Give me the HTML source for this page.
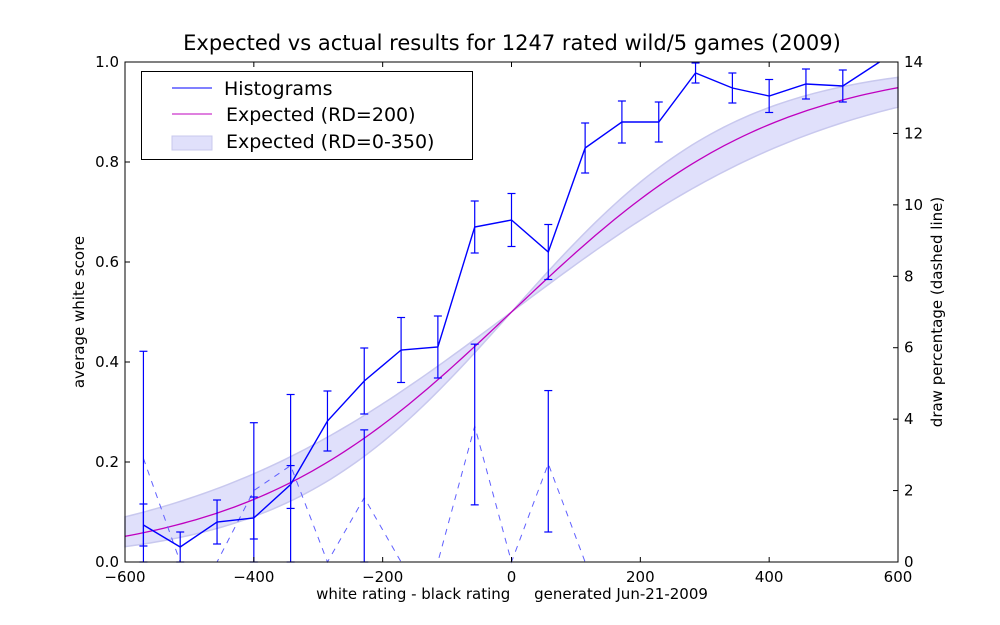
<!DOCTYPE html>
<html><head><meta charset="utf-8"><style>
html,body{margin:0;padding:0;background:#fff;}
svg{display:block;font-family:"DejaVu Sans","Liberation Sans",sans-serif;}
</style></head><body>
<svg id="chart" width="1000" height="625" viewBox="0 0 1000 625">
<rect x="0" y="0" width="1000" height="625" fill="#fff"/>
<text x="512" y="50" text-anchor="middle" font-size="21">Expected vs actual results for 1247 rated wild/5 games (2009)</text>
<g id="plot"></g>
<text x="0" y="0" transform="translate(84,312) rotate(-90)" text-anchor="middle" font-size="15">average white score</text>
<text x="0" y="0" transform="translate(942,312) rotate(-90)" text-anchor="middle" font-size="15">draw percentage (dashed line)</text>
<text x="512" y="599" text-anchor="middle" font-size="15" xml:space="preserve">white rating - black rating     generated Jun-21-2009</text>
<g>
<rect x="141.5" y="71.5" width="331" height="88" fill="#fff" stroke="#000"/>
<line x1="172" y1="88" x2="212" y2="88" stroke="#0000ff" stroke-width="1"/>
<text x="224" y="95" font-size="19">Histograms</text>
<line x1="172" y1="114" x2="212" y2="114" stroke="#bf00bf" stroke-width="1"/>
<text x="226" y="121" font-size="19">Expected (RD=200)</text>
<rect x="172" y="136" width="40" height="14" fill="#e0e0fb" stroke="#c8c8ee"/>
<text x="226" y="148" font-size="19">Expected (RD=0-350)</text>
</g>
</svg>
<script>
const bins = [-571.4,-514.3,-457.1,-400,-342.9,-285.7,-228.6,-171.4,-114.3,-57.1,0,57.1,114.3,171.4,228.6,285.7,342.9,400,457.1,514.3,571.4];
const scores = [0.074,0.03,0.08,0.088,0.155,0.282,0.362,0.424,0.43,0.67,0.684,0.62,0.828,0.88,0.88,0.978,0.948,0.932,0.956,0.952,1.0];
const scoreErr = [0.042,0.03,0.044,0.042,0.18,0.06,0.066,0.065,0.062,0.052,0.053,0.055,0.05,0.042,0.04,0.02,0.03,0.033,0.03,0.032,0.0];
const draws = [2.9,0,0,2.0,2.7,0,1.8,0,0,3.8,0,2.75,0,0,0,0,0,0,0,0,0];
const drawLo = [0,null,null,0,1.5,null,0,null,null,1.6,null,0.84,null,null,null,null,null,null,null,null,null];
const drawHi = [5.9,null,null,3.9,2.7,null,3.7,null,null,6.1,null,4.8,null,null,null,null,null,null,null,null,null];
const xTicks = [-600,-400,-200,0,200,400,600];
const yTicks = [0.0,0.2,0.4,0.6,0.8,1.0];
const y2Ticks = [0,2,4,6,8,10,12,14];
const rdMain = [200];
const rdBand = [0,350];

const X0=125,X1=898,Y0=562,Y1=62;
const sx=v=>X0+(v+600)/1200*(X1-X0);
const sy=v=>Y0-v*(Y0-Y1);
const sy2=v=>Y0-v/14*(Y0-Y1);
const NS='http://www.w3.org/2000/svg';
const plot=document.getElementById('plot');
function mk(t,a,p){const e=document.createElementNS(NS,t);for(const k in a)e.setAttribute(k,a[k]);(p||plot).appendChild(e);return e;}
function expct(d,rd){const q=Math.LN10/400;const g=1/Math.sqrt(1+3*q*q*rd*rd/(Math.PI*Math.PI));return 1/(1+Math.pow(10,-g*d/400));}

// band
let up=[],lo=[];
for(let d=-600;d<=600;d+=10){const a=expct(d,rdBand[0]),b=expct(d,rdBand[1]);up.push([sx(d),sy(Math.max(a,b))]);lo.push([sx(d),sy(Math.min(a,b))]);}
const bandPts=up.concat(lo.reverse()).map(p=>p.join(',')).join(' ');
let band=mk('polygon',{points:bandPts,fill:'#e0e0fb',stroke:'#c8c8ee','stroke-width':1.5});



// expected line
let ep=[];for(let d=-600;d<=600;d+=10)ep.push(sx(d)+','+sy(expct(d,rdMain[0])));
let el=mk('polyline',{points:ep.join(' '),fill:'none',stroke:'#bf00bf','stroke-width':1.3});



// draw dashed line
let dl=mk('polyline',{points:bins.map((b,i)=>sx(b)+','+sy2(draws[i])).join(' '),fill:'none',stroke:'#6060ff','stroke-width':1,'stroke-dasharray':'6,6'});



function errbar(x,ya,yb,name){
  const g=mk('g',{stroke:'#0000ff','stroke-width':1.2});
  
  
  mk('line',{x1:x,y1:ya,x2:x,y2:yb},g);
  mk('line',{x1:x-4,y1:ya,x2:x+4,y2:ya},g);
  mk('line',{x1:x-4,y1:yb,x2:x+4,y2:yb},g);
}
bins.forEach((b,i)=>{
  if(drawLo[i]!==null)errbar(sx(b),sy2(drawHi[i]),sy2(drawLo[i]),'draw-error-bar');
  if(scoreErr[i]>0)errbar(sx(b),sy(Math.min(1,scores[i]+scoreErr[i])),sy(Math.max(0,scores[i]-scoreErr[i])),'score-error-bar');
});
let sl=mk('polyline',{points:bins.map((b,i)=>sx(b)+','+sy(scores[i])).join(' '),fill:'none',stroke:'#0000ff','stroke-width':1.4});



// frame
let fr=mk('rect',{x:X0,y:Y1,width:X1-X0,height:Y0-Y1,fill:'none',stroke:'#000','stroke-width':1});


xTicks.forEach(t=>{
  const x=sx(t);
  mk('line',{x1:x,y1:Y0,x2:x,y2:Y0-5,stroke:'#000'});
  mk('line',{x1:x,y1:Y1,x2:x,y2:Y1+5,stroke:'#000'});
  const tx=mk('text',{x:x,y:Y0+20,'text-anchor':'middle','font-size':15});
  tx.textContent=t<0?'\u2212'+(-t):String(t);
  
  
});
yTicks.forEach(t=>{
  const y=sy(t);
  mk('line',{x1:X0,y1:y,x2:X0+5,y2:y,stroke:'#000'});
  const tx=mk('text',{x:X0-6,y:y+5,'text-anchor':'end','font-size':15});
  tx.textContent=t.toFixed(1);
  
  
});
y2Ticks.forEach(t=>{
  const y=sy2(t);
  mk('line',{x1:X1,y1:y,x2:X1-5,y2:y,stroke:'#000'});
  const tx=mk('text',{x:X1+6,y:y+5,'text-anchor':'start','font-size':15});
  tx.textContent=String(t);
  
  
});
</script>
</body></html>
